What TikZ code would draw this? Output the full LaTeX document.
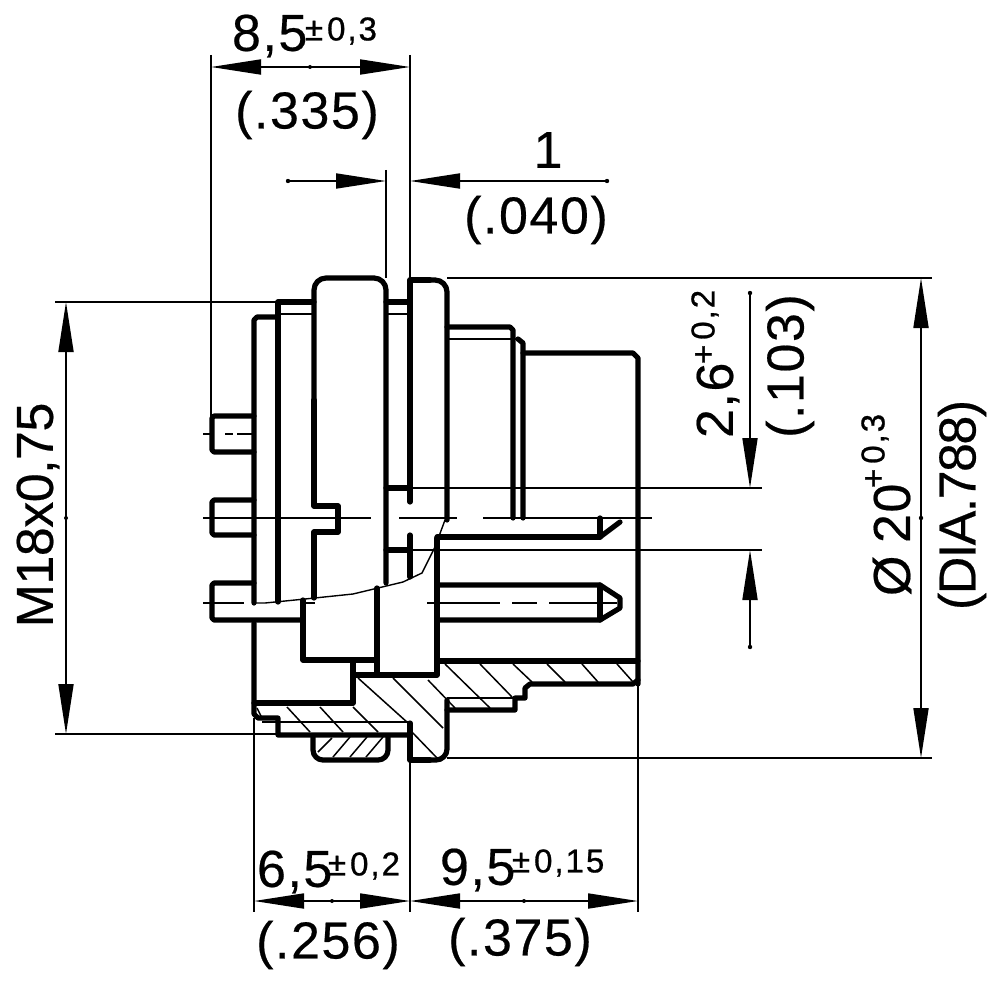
\documentclass[tikz,border=0pt]{standalone}
\usepackage{fontspec}
\setmainfont{Liberation Sans}
\newfontfamily\dimfont[LetterSpace=3,FakeBold=0.4]{Liberation Sans}
\newfontfamily\tightfont[LetterSpace=-1,FakeBold=0.4]{Liberation Sans}
\newfontfamily\tighterfont[LetterSpace=-3,FakeBold=0.4]{Liberation Sans}
\newfontfamily\tolfont[LetterSpace=6,FakeBold=0.8]{Liberation Sans}
\usetikzlibrary{arrows.meta}
\tikzset{
  heavy/.style={line width=5.2pt,line cap=round,line join=round},
  fine/.style={line width=1.8pt},
  hatchline/.style={line width=1.5pt},
  dimtip/.style={-{Triangle[length=50pt,width=15pt]}},
  dimtips/.style={{Triangle[length=50pt,width=15pt]}-{Triangle[length=50pt,width=15pt]}},
  lab/.style={inner sep=0pt,outer sep=0pt,font=\dimfont\fontsize{52}{56}\selectfont},
  labt/.style={inner sep=0pt,outer sep=0pt,font=\tightfont\fontsize{52}{56}\selectfont},
  labtt/.style={inner sep=0pt,outer sep=0pt,font=\tighterfont\fontsize{52}{56}\selectfont},
  tol/.style={inner sep=0pt,outer sep=0pt,font=\tolfont\fontsize{33}{36}\selectfont},
}
\begin{document}
\begin{tikzpicture}[x=1pt,y=-1pt]
\useasboundingbox (0,0) rectangle (1000,984);
% extension lines
\draw[fine] (211,55)--(211,416) (410,55)--(410,280) (386,170)--(386,278);
\draw[fine] (55,302)--(278,302) (55,734)--(278,734);
\draw[fine] (447,278)--(932,278) (447,758)--(932,758);
\draw[fine] (410,488)--(762,488) (410,550)--(762,550);
\draw[fine] (254,718)--(254,912) (410,760)--(410,912) (638,684)--(638,912);
% dimension lines
\draw[fine,dimtips] (211,67)--(410,67);
\draw[fine,dimtip] (288,181)--(386,181);
\draw[fine,dimtip] (607,181)--(410,181);
\draw[fine,dimtips] (921,278)--(921,758);
\draw[fine,dimtip] (750,293)--(750,488);
\draw[fine,dimtip] (750,647)--(750,550);
\draw[fine,dimtips] (66,302)--(66,734);
\draw[fine,dimtips] (254,901)--(410,901);
\draw[fine,dimtips] (410,901)--(638,901);
\fill (310,67) circle (2pt) (66,518) circle (2pt) (332,901) circle (2pt) (524,901) circle (2pt) (288,181) circle (2.2pt) (607,181) circle (2.2pt) (750,293) circle (2.2pt) (750,647) circle (2.2pt) (921,518) circle (2.2pt);
% centre lines
\draw[fine] (203,434)--(210,434) (225,434)--(233,434) (237,434)--(252,434);
\draw[fine] (203,518)--(371,518) (399,518)--(457,518) (483,518)--(652,518);
\draw[fine] (203,603)--(244,603) (303,603)--(315,603);
\draw[fine] (427,603)--(500,603) (512,603)--(537,603) (549,603)--(617,603);
\draw[fine] (278,314)--(314,314) (386,314)--(410,314);
\draw[fine] (447,339)--(518,339);
\draw[fine] (447,698)--(515,698);
\draw[fine] (262,722)--(408,722);
% break curve
\draw[line width=1.4pt] (255,603)--(265,603)--(305,599)--(353,594)--(403,582)--(422,573)--(435,547)--(445,520);
% hatching
\draw[hatchline]
 (257,708)--(262,718) (287,707)--(310,732) (320,707)--(343,732) (353,707)--(378,732)
 (358,678)--(408,723) (410,730)--(438,759) (393,678)--(443,728) (428,680)--(455,708)
 (445,664)--(490,708) (480,664)--(512,697) (513,664)--(532,682) (547,664)--(565,682)
 (582,664)--(598,682) (617,664)--(633,682)
 (318,752)--(332,738) (333,757)--(350,737) (350,757)--(367,737) (366,757)--(383,737);
% pins left
\draw[heavy] (254,416)--(214,416)--(212,418)--(212,450)--(214,452)--(254,452);
\draw[heavy] (254,500)--(214,500)--(212,502)--(212,533)--(214,535)--(254,535);
\draw[heavy] (254,583)--(214,583)--(212,585)--(212,618)--(214,620)--(303,620);
% rear bodies
\draw[heavy] (254,603)--(254,320)--(257,317)--(278,317);
\draw[heavy] (278,602)--(278,302)--(314,302);
\draw[heavy] (314,598)--(314,532)--(338,532)--(338,506)--(314,506)--(314,400);
\draw[heavy,rounded corners=12pt] (314,400)--(314,278)--(386,278)--(386,583);
\draw[heavy] (386,302)--(410,302) (386,488)--(410,488) (386,550)--(410,550);
\draw[heavy] (410,502)--(410,280)--(430,280);
\draw[heavy,rounded corners=12pt] (430,280)--(447,280)--(447,520);
\draw[heavy] (410,535)--(410,577);
% inner body
\draw[heavy] (437,538)--(437,675)--(355,675);
\draw[heavy] (377,588)--(377,674);
\draw[heavy] (303,600)--(303,660)--(377,660);
\draw[heavy] (353,660)--(353,703)--(254,703);
\draw[heavy] (254,623)--(254,714)--(258,718)--(278,718)--(278,735)--(410,735);
% front body
\draw[heavy] (410,723)--(410,760)--(430,760);
\draw[heavy,rounded corners=11pt] (430,760)--(447,760)--(447,700);
\draw[heavy] (447,710)--(515,710)--(515,698)--(525,698)--(525,688)--(530,684)--(633,684)--(638,680);
\draw[heavy] (437,661)--(638,661);
\draw[heavy] (447,327)--(510,327)--(513,330)--(513,518);
\draw[heavy] (518,339)--(523,343)--(523,518);
\draw[heavy] (523,353)--(633,353)--(638,358)--(638,684);
\draw[heavy] (437,537)--(600,537)--(600,518);
\draw[heavy] (600,537)--(620,522);
\draw[heavy] (437,585)--(600,585)--(620,598)--(620,608)--(600,620)--(437,620);
\draw[heavy] (600,585)--(600,620);
% lower tab
\draw[heavy,rounded corners=10pt] (313,737)--(313,760)--(388,760)--(388,737);
% labels
\node[lab,anchor=west] (a1) at (232,36) {8,5};
\node[tol,anchor=west] (a2) at (305,31) {±\kern4pt0,3};
\node[lab] (a3) at (307,115) {(.335)};
\node[lab] (b1) at (548,150) {1};
\node[lab] (b2) at (536,220) {(.040)};
\node[lab,anchor=west] (c1) at (257,872) {6,5};
\node[tol,anchor=west] (c2) at (328,866) {±\kern4pt0,2};
\node[lab] (c3) at (328,945) {(.256)};
\node[lab,anchor=west] (d1) at (440,870) {9,5};
\node[tol,anchor=west] (d2) at (512,863) {±\kern4pt0,15};
\node[lab] (d3) at (520,942) {(.375)};
\node[labt,rotate=90] (e1) at (38,515) {M18x0,75};
\node[lab,rotate=90,anchor=west] (f1) at (718,438) {2,6};
\node[tol,rotate=90,anchor=west] (f2) at (705,364) {+\kern5pt0,2};
\node[lab,rotate=90] (f3) at (790,366) {(.103)};
\node[lab,rotate=90,anchor=west] (g0) at (892,596) {Ø};
\node[lab,rotate=90,anchor=west] (g1) at (892,543) {20};
\node[tol,rotate=90,anchor=west] (g2) at (875,488) {+\kern5pt0,3};
\node[labtt,rotate=90] (g3) at (962,505) {(DIA.788)};
\end{tikzpicture}
\end{document}
